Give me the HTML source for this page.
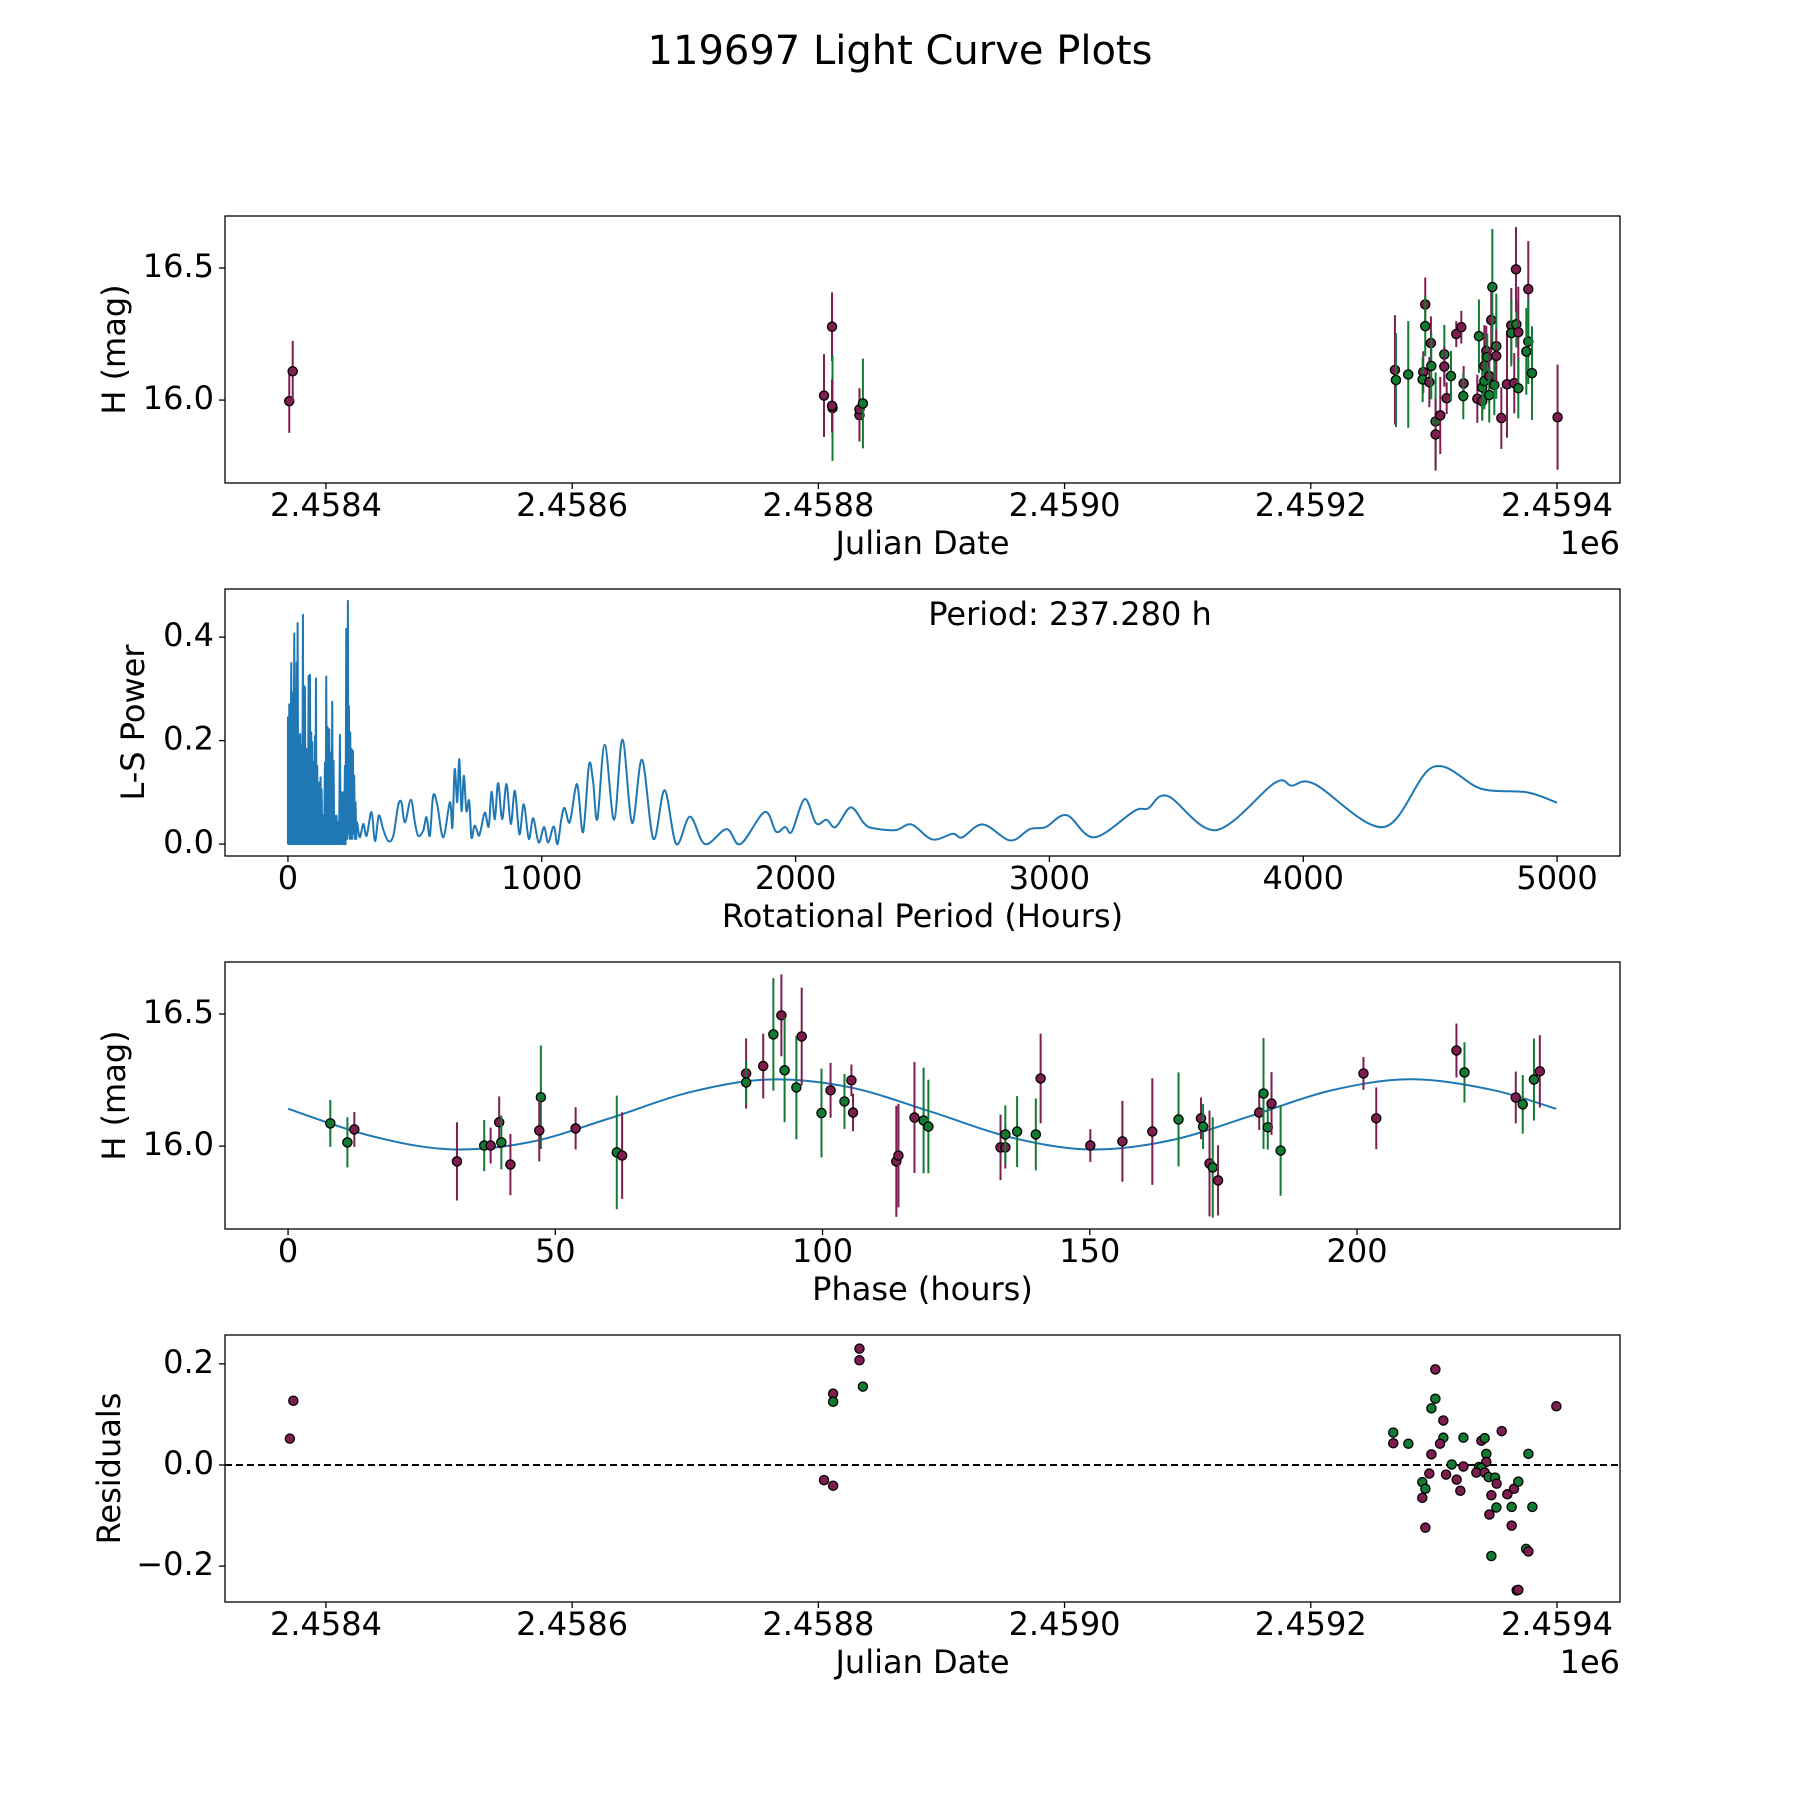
<!DOCTYPE html>
<html><head><meta charset="utf-8"><title>119697 Light Curve Plots</title>
<style>
html,body{margin:0;padding:0;background:#fff;}
svg{display:block;font-family:"DejaVu Sans","Liberation Sans",sans-serif;}
</style></head>
<body>
<svg id="fig" width="1800" height="1800" viewBox="0 0 1800 1800" xmlns="http://www.w3.org/2000/svg">
<rect x="0" y="0" width="1800" height="1800" fill="#fff"/>
<text x="900" y="53" font-size="40" text-anchor="middle" dominant-baseline="middle">119697 Light Curve Plots</text>
</svg>
<script>
// ---------- Panel 1: light curve vs Julian Date (JD - 2458000) ----------
const lcJD = [370.2,373.0,804.6,811.1,811.5,811.1,833.4,833.4,836.2,
1268.4,1269.2,1279.2,1291.4,1290.9,1293.0,1293.0,1296.3,1297.6,1297.9,1301.4,1301.4,1305.2,1308.5,1308.5,1310.4,1313.9,1318.2,1322.3,1324.2,1323.9,1335.3,1336.6,1339.3,1339.3,1341.0,1341.0,1342.6,1343.4,1345.0,1345.0,1346.6,1347.5,1349.1,1350.7,1350.7,1354.8,1359.4,1362.9,1362.9,1365.3,1367.0,1366.7,1368.6,1368.6,1376.7,1376.7,1375.1,1379.7,1400.5];
const lcMag = [15.996,16.109,16.017,16.278,15.970,15.978,15.943,15.965,15.987,
16.114,16.076,16.097,16.106,16.078,16.362,16.280,16.068,16.216,16.129,15.919,15.870,15.942,16.173,16.127,16.007,16.091,16.250,16.276,16.063,16.015,16.005,16.242,15.996,16.048,16.129,16.072,16.186,16.163,16.091,16.019,16.303,16.428,16.057,16.204,16.167,15.932,16.060,16.283,16.254,16.064,16.287,16.495,16.257,16.045,16.420,16.222,16.184,16.102,15.935];
const lcErr = [0.12,0.115,0.157,0.13,0.2,0.1,0.1,0.08,0.17,
0.207,0.178,0.202,0.079,0.086,0.102,0.114,0.095,0.101,0.126,0.186,0.136,0.146,0.112,0.076,0.060,0.095,0.049,0.062,0.066,0.088,0.091,0.139,0.073,0.126,0.155,0.107,0.095,0.088,0.101,0.104,0.123,0.220,0.114,0.199,0.101,0.117,0.202,0.142,0.126,0.114,0.088,0.160,0.172,0.114,0.182,0.161,0.164,0.177,0.199];
const lcBand = ['m','m','m','m','g','m','m','m','g',
'm','g','g','m','g','m','g','m','m','g','g','m','m','g','m','m','g','m','m','m','g','m','g','m','g','m','g','m','g','m','g','m','g','g','g','m','m','m','m','g','m','g','m','m','g','m','g','g','g','m'];
const jdTicks = [400,600,800,1000,1200,1400];
const jdTickLabels = ['2.4584','2.4586','2.4588','2.4590','2.4592','2.4594'];
const magTicks = [16.0,16.5];
const magTickLabels = ['16.0','16.5'];

// ---------- Panel 2: Lomb-Scargle periodogram ----------
const lsPeriod = [0,0,2.6,5.2,9,13.1,15.8,18.4,21.6,24.9,27.5,30.2,32,34.1,36,38.1,40.7,43.3,46,48.6,51.2,53.8,56.5,59.1,61,63,65,66.9,69.5,72.2,74,76.1,78.7,81.4,84,86.6,89.2,91.9,93.8,95.8,98.4,101,103.6,106.3,108.2,110.2,112.8,115.5,118.1,120.7,124.6,128.6,130.5,132.5,135.8,139.1,142.4,145.7,148.3,150.9,153.5,156.2,159.4,162.7,166,169.3,171.9,174.5,177.1,179.8,182.4,185,188.3,191.6,194.9,198.2,201.4,204.7,208,211.3,214.5,217.8,221.1,224.4,227,229.7,233,236.2,238.2,240.2,242.8,245.4,248,250.7,253.3,255.9,258.5,261.1,263.7,266.4,269,271.6,
283,297,310,329,343,358,375,395,415,434,447,461,484,500,513,533,546,559,572,588,612,638,648,657,667,675,684,693,703,714,723,734,743,752,760,776,791,802,815,828,844,861,878,894,912,929,949,966,988,1009,1025,1047,1062,1077,1090,1110,1132,1143,1163,1186,1202,1219,1248,1285,1318,1356,1395,1440,1484,1530,1584,1643,1728,1783,1878,1923,1959,1985,2036,2081,2122,2158,2217,2270,2303,2394,2457,2538,2620,2656,2738,2846,2923,2986,3068,3176,3335,3389,3466,3656,3887,3955,4045,4317,4511,4701,4882,5000];
const lsPower = [0,0.245,0,0.27,0,0.35,0,0.293,0,0.407,0,0.30,0,0.351,0,0.427,0,0.209,0,0.213,0,0.19,0,0.443,0,0.306,0,0.303,0,0.184,0,0.18,0,0.325,0,0.327,0,0.216,0,0.197,0,0.158,0,0.209,0,0.32,0,0.151,0,0.119,0,0.129,0,0.106,0,0.055,0,0.158,0,0.324,0,0.226,0,0.222,0,0.177,0,0.275,0,0.161,0,0.055,0,0.055,0,0.042,0,0.211,0,0.1,0,0.1,0,0.151,0,0.416,0.01,0.47,0.02,0.267,0.01,0.216,0.01,0.184,0.01,0.18,0.02,0.132,0.01,0.081,0.01,0.042,
0.013,0.039,0.016,0.062,0.006,0.055,0.029,0.006,0.016,0.074,0.081,0.042,0.086,0.042,0.016,0.026,0.052,0.016,0.093,0.077,0.013,0.081,0.032,0.145,0.081,0.164,0.064,0.132,0.064,0.084,0.013,0.035,0.029,0.016,0.028,0.061,0.034,0.101,0.048,0.118,0.048,0.116,0.039,0.103,0.019,0.077,0.010,0.050,0.003,0.033,0.003,0.034,0.0,0.048,0.070,0.042,0.106,0.108,0.023,0.153,0.122,0.048,0.192,0.047,0.202,0.041,0.163,0.01,0.104,0.0,0.053,0.0,0.029,0.0,0.062,0.024,0.033,0.024,0.087,0.04,0.047,0.033,0.071,0.04,0.031,0.027,0.038,0.009,0.02,0.013,0.038,0.007,0.029,0.033,0.056,0.013,0.064,0.069,0.093,0.027,0.118,0.113,0.116,0.033,0.149,0.107,0.1,0.08];
const lsXTicks = [0,1000,2000,3000,4000,5000];
const lsXTickLabels = ['0','1000','2000','3000','4000','5000'];
const lsYTicks = [0.0,0.2,0.4];
const lsYTickLabels = ['0.0','0.2','0.4'];
const bestPeriodLabel = ['Period: 237.280 h'];

// ---------- Panel 3: phase-folded ----------
const phPhase = [7.9,11.1,12.4,31.6,36.7,37.9,39.5,39.9,41.6,47.3,47.0,53.8,61.5,62.5,85.7,85.7,88.9,90.8,92.3,92.9,95.1,96.1,99.8,101.5,
104.1,105.4,105.7,113.8,114.2,117.2,118.9,119.8,133.3,134.2,134.2,136.4,139.9,140.8,150.1,156.1,161.7,166.6,170.8,171.2,172.4,173.0,174.0,181.7,182.5,183.3,184.0,185.7,201.2,203.6,
218.6,220.1,229.7,231.0,233.1,234.2];
const phMag = [16.086,16.014,16.063,15.942,16.002,16.002,16.090,16.014,15.930,16.185,16.059,16.067,15.976,15.964,16.275,16.241,16.303,16.423,16.495,16.287,16.222,16.415,16.125,16.211,
16.169,16.249,16.127,15.942,15.964,16.108,16.097,16.074,15.995,15.995,16.044,16.055,16.044,16.256,16.002,16.018,16.055,16.101,16.105,16.074,15.934,15.919,15.870,16.127,16.199,16.071,16.161,15.983,16.275,16.105,
16.362,16.279,16.184,16.158,16.252,16.283];
const phErr = [0.089,0.095,0.066,0.148,0.097,0.068,0.098,0.102,0.116,0.196,0.117,0.080,0.215,0.164,0.133,0.08,0.123,0.213,0.155,0.197,0.196,0.185,0.168,0.104,
0.104,0.06,0.071,0.21,0.196,0.21,0.2,0.177,0.124,0.08,0.11,0.134,0.136,0.17,0.062,0.153,0.202,0.178,0.079,0.085,0.2,0.19,0.133,0.066,0.21,0.084,0.119,0.171,0.062,0.117,
0.102,0.114,0.098,0.111,0.155,0.137];
const phBand = ['g','g','m','m','g','m','m','g','m','g','m','m','g','m','m','g','m','g','m','g','g','m','g','m',
'g','m','m','m','m','m','g','g','m','m','g','g','g','m','m','m','m','g','m','g','m','g','m','m','g','g','m','g','m','m',
'm','g','m','g','g','m'];
const modelPhase = [0,15,30,45,60,75,90,105,120,135,150,165,180,195,210,225,237.28];
const modelMag = [16.141,16.041,15.988,16.014,16.104,16.203,16.252,16.223,16.132,16.034,15.987,16.021,16.113,16.210,16.253,16.214,16.141];
const phXTicks = [0,50,100,150,200];
const phXTickLabels = ['0','50','100','150','200'];

// ---------- Panel 4: residuals ----------
const resJD = [370.7,373.5,804.6,812.0,812.0,812.0,833.4,833.4,836.2,1267.0,1267.0,
1301.2,1301.2,1298.0,1307.7,1307.7,1305.0,1298.0,1279.3,1324.0,1314.5,1324.0,1296.3,1309.9,1290.6,1293.1,1290.6,1318.5,1321.5,1293.1,1338.6,1341.3,1342.6,1342.6,1336.7,1338.6,1334.5,1341.3,1344.5,1349.7,1351.0,1355.1,1346.7,1350.8,1345.1,1346.7,1359.7,1365.1,1368.6,1363.2,1363.2,1376.8,1380.0,1374.9,1376.8,1367.3,1368.6,1399.5];
const resVal = [0.052,0.127,-0.030,-0.041,0.141,0.125,0.230,0.207,0.155,0.064,0.043,
0.189,0.131,0.112,0.088,0.054,0.042,0.021,0.042,0.054,0.001,-0.003,-0.017,-0.019,-0.034,-0.047,-0.065,-0.029,-0.051,-0.124,0.048,0.053,0.022,0.006,-0.004,-0.006,-0.015,-0.015,-0.024,-0.025,-0.037,0.067,-0.06,-0.084,-0.098,-0.18,-0.058,-0.047,-0.033,-0.083,-0.12,0.022,-0.083,-0.166,-0.171,-0.248,-0.247,0.116];
const resBand = ['m','m','m','m','m','g','m','m','g','g','m',
'm','g','g','m','g','m','m','g','g','g','m','m','m','g','g','m','m','m','m','m','g','g','m','g','g','m','m','g','g','m','m','m','g','m','g','m','m','g','g','m','g','g','g','m','m','m','m'];
const resTicks = [-0.2,0.0,0.2];
const resTickLabels = ['\u22120.2','0.0','0.2'];

// ---------- drawing ----------
const NS = 'http://www.w3.org/2000/svg';
const svg = document.getElementById('fig');
const COL = {m:'#7e1e50', g:'#137a32'};
const X0 = 225, X1 = 1620;
function lin(d0,d1,r0,r1){return v => r0 + (v-d0)/(d1-d0)*(r1-r0);}
function mk(tag, attrs, parent){const e=document.createElementNS(NS,tag);for(const k in attrs)e.setAttribute(k,attrs[k]);(parent||svg).appendChild(e);return e;}

const panels = [
 {top:216, xd:[318,1451.2], yd:[15.686,16.697]},
 {top:589, xd:[-248,5248], yd:[-0.023,0.493]},
 {top:962, xd:[-11.8,249.2], yd:[15.686,16.697]},
 {top:1335, xd:[318,1451.2], yd:[-0.271,0.257]}
];
panels.forEach(p=>{p.bot=p.top+267;p.sx=lin(p.xd[0],p.xd[1],X0,X1);p.sy=lin(p.yd[0],p.yd[1],p.bot,p.top);});

function axes(p, name, xt, xtl, yt, ytl, xlabel, ylabel, ylabelX, offsetText){
  const g = mk('g',{});
  
  
  xt.forEach((v,i)=>{
    const x=p.sx(v);
    const t=mk('line',{x1:x,x2:x,y1:p.bot,y2:p.bot+6,stroke:'#000','stroke-width':1.3},g);
    
    
    const l=mk('text',{x:x,y:p.bot+24,'font-size':32,'text-anchor':'middle','dominant-baseline':'middle'},g);
    
    
    l.textContent=xtl[i];
  });
  yt.forEach((v,i)=>{
    const y=p.sy(v);
    const t=mk('line',{x1:X0-6,x2:X0,y1:y,y2:y,stroke:'#000','stroke-width':1.3},g);
    
    
    const l=mk('text',{x:X0-11,y:y,'font-size':32,'text-anchor':'end','dominant-baseline':'middle'},g);
    
    
    l.textContent=ytl[i];
  });
  const xl=mk('text',{x:(X0+X1)/2,y:p.bot+62,'font-size':32,'text-anchor':'middle','dominant-baseline':'middle'},g);
  
  
  xl.textContent=xlabel;
  const cy=(p.top+p.bot)/2;
  const yl=mk('text',{x:ylabelX,y:cy,'font-size':32,'text-anchor':'middle','dominant-baseline':'middle',transform:'rotate(-90 '+ylabelX+' '+cy+')'},g);
  
  
  yl.textContent=ylabel;
  if(offsetText){
    const o=mk('text',{x:X1,y:p.bot+62,'font-size':32,'text-anchor':'end','dominant-baseline':'middle'},g);
    
    
    o.textContent=offsetText;
  }
}
function frame(p){
  const r=mk('rect',{x:X0,y:p.top,width:X1-X0,height:p.bot-p.top,fill:'none',stroke:'#000','stroke-width':1.3});
  
  
}
function clip(p,id){const c=mk('clipPath',{id:id});mk('rect',{x:X0,y:p.top,width:X1-X0,height:p.bot-p.top},c);return 'url(#'+id+')';}
function errPoints(p, xs, ys, es, bands, name){
  const g=mk('g',{'clip-path':clip(p,name+'-clip')});
  
  
  xs.forEach((v,i)=>{
    const x=p.sx(v);
    if(es){
      const b=mk('line',{x1:x,x2:x,y1:p.sy(ys[i]-es[i]),y2:p.sy(ys[i]+es[i]),stroke:COL[bands[i]],'stroke-width':2},g);
      
      
    }
    const c=mk('circle',{cx:x,cy:p.sy(ys[i]),r:4.6,fill:COL[bands[i]],stroke:'#000','stroke-width':1.3},g);
    
    
  });
}
function pathMixed(p, xs, ys, smoothFrom){
  const P=xs.map((v,i)=>[p.sx(v),p.sy(ys[i])]);
  let d='M'+P[0][0].toFixed(2)+','+P[0][1].toFixed(2);
  for(let i=1;i<P.length;i++){
    if(xs[i]<=smoothFrom){d+='L'+P[i][0].toFixed(2)+','+P[i][1].toFixed(2);continue;}
    const p0=P[Math.max(i-2,0)],p1=P[i-1],p2=P[i],p3=P[Math.min(i+1,P.length-1)];
    const c1=[p1[0]+(p2[0]-p0[0])/6,p1[1]+(p2[1]-p0[1])/6];
    const c2=[p2[0]-(p3[0]-p1[0])/6,p2[1]-(p3[1]-p1[1])/6];
    d+='C'+c1[0].toFixed(2)+','+c1[1].toFixed(2)+' '+c2[0].toFixed(2)+','+c2[1].toFixed(2)+' '+p2[0].toFixed(2)+','+p2[1].toFixed(2);
  }
  return d;
}

// Panel 1
let p=panels[0];
errPoints(p, lcJD, lcMag, lcErr, lcBand, 'light-curve-points');
frame(p);
axes(p,'light-curve-axes',jdTicks,jdTickLabels,magTicks,magTickLabels,'Julian Date','H (mag)',116,'1e6');

// Panel 2
p=panels[1];
const ls=mk('path',{d:pathMixed(p,lsPeriod,lsPower,275),fill:'none',stroke:'#1f77b4','stroke-width':2,'stroke-linejoin':'round','clip-path':clip(p,'ls-clip')});


frame(p);
axes(p,'periodogram-axes',lsXTicks,lsXTickLabels,lsYTicks,lsYTickLabels,'Rotational Period (Hours)','L-S Power',135,null);
const pt=mk('text',{x:1070,y:616,'font-size':32,'text-anchor':'middle','dominant-baseline':'middle'});


pt.textContent=bestPeriodLabel[0];

// Panel 3
p=panels[2];
const mc=mk('path',{d:pathMixed(p,modelPhase,modelMag,-1),fill:'none',stroke:'#1f77b4','stroke-width':2});


errPoints(p, phPhase, phMag, phErr, phBand, 'phase-points');
frame(p);
axes(p,'phase-axes',phXTicks,phXTickLabels,magTicks,magTickLabels,'Phase (hours)','H (mag)',116,null);

// Panel 4
p=panels[3];
const zl=mk('line',{x1:X0,x2:X1,y1:p.sy(0),y2:p.sy(0),stroke:'#000','stroke-width':2,'stroke-dasharray':'7,4'});


errPoints(p, resJD, resVal, null, resBand, 'residual-points');
frame(p);
axes(p,'residual-axes',jdTicks,jdTickLabels,resTicks,resTickLabels,'Julian Date','Residuals',111,'1e6');
</script>
</body></html>
